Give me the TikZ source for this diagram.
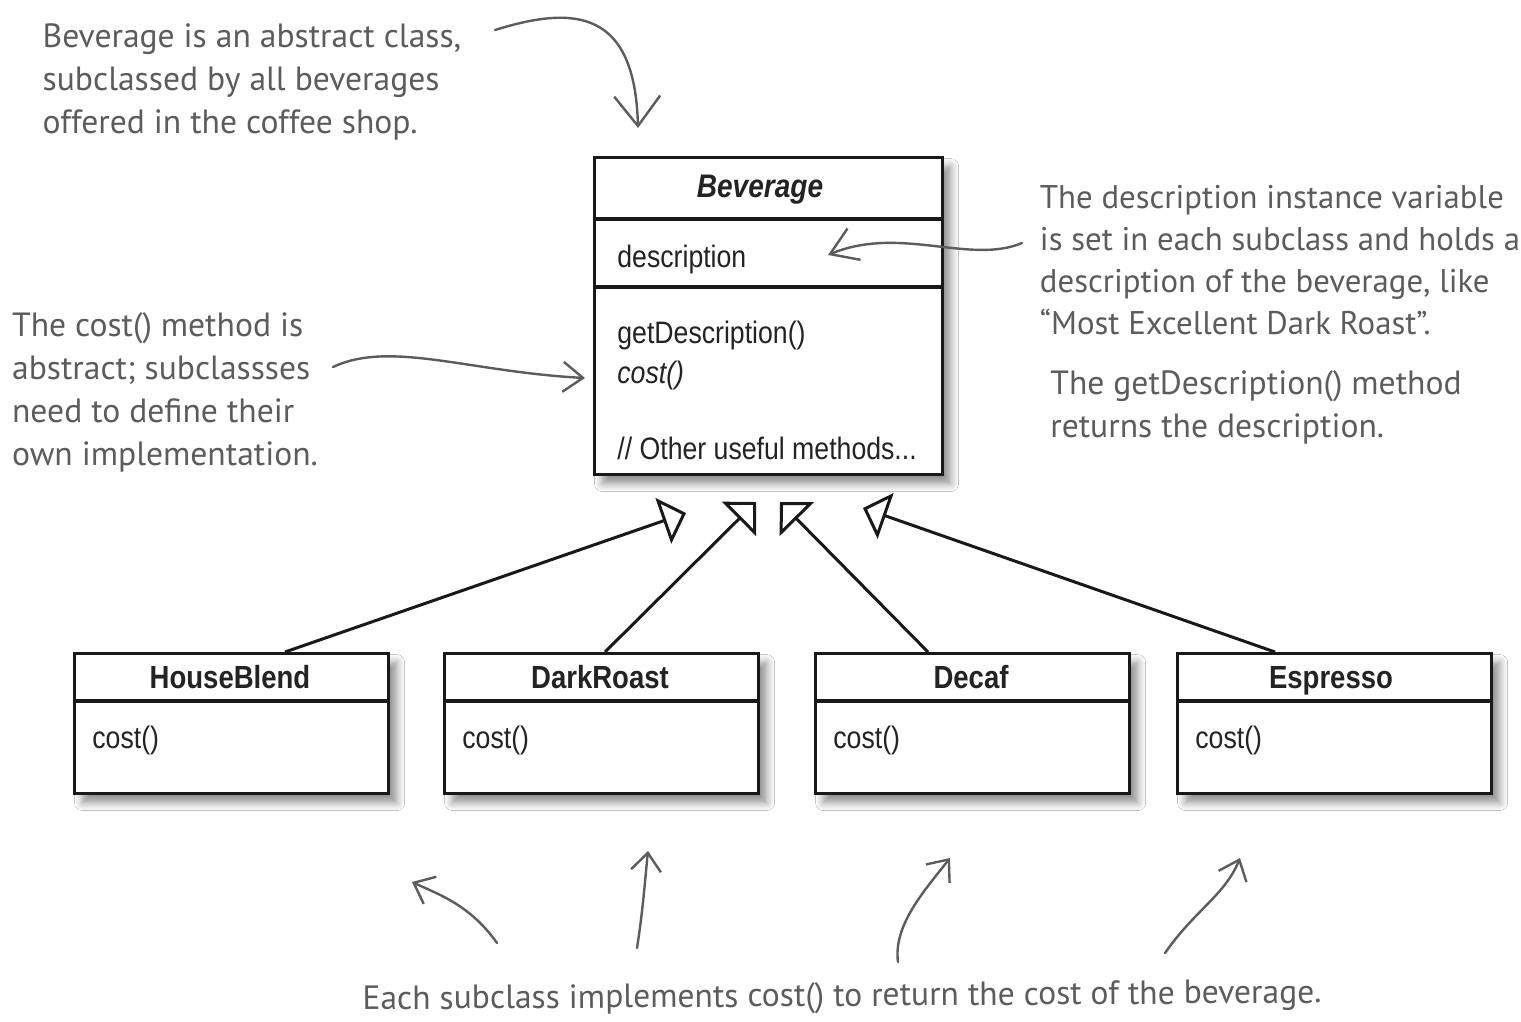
\documentclass[tikz,border=0pt]{standalone}
\usepackage{fontspec}
\usetikzlibrary{arrows.meta,shadows,shadows.blur,calc}
\newfontfamily\umlfont[FakeStretch=0.86]{Liberation Sans}
\newfontfamily\handfont{PT Sans}
\definecolor{handgray}{RGB}{92,92,92}
\definecolor{umltext}{RGB}{35,35,35}
\definecolor{umlline}{RGB}{25,25,25}
\begin{document}
\begin{tikzpicture}[x=0.5pt,y=-0.5pt,
  umlbox/.style={draw=umlline, line width=1.6pt, fill=white, inner sep=0pt, anchor=north west,
    blur shadow={shadow xshift=4pt, shadow yshift=-4.5pt, shadow blur radius=4pt, shadow blur steps=8, shadow opacity=45}},
  compline/.style={line width=1.6pt, draw=umlline},
  umltxt/.style={font=\umlfont\fontsize{15.5}{18}\selectfont, text=umltext, inner sep=0pt, anchor=base west},
  umlname/.style={font=\umlfont\bfseries\fontsize{16}{19}\selectfont, text=umltext, inner sep=0pt, anchor=base},
  inheritarrow/.style={line width=1.5pt, draw=umlline, -{Triangle[open, length=12pt, width=24pt]}},
  handnote/.style={font=\handfont\fontsize{16.8}{21.5}\selectfont, text=handgray, align=left, inner sep=0pt},
  handarrow/.style={line width=1.2pt, draw=handgray, line cap=round, line join=round,
    -{Straight Barb[length=9pt, width=15pt, line width=1.2pt]}},
]
\fill[white] (0,0) rectangle (1521,1022);
\useasboundingbox (0,0) rectangle (1521,1022);

% ---- Beverage class ----
\node[umlbox, minimum width=174pt, minimum height=158.5pt] (bev) at (593,156) {};
\draw[compline] ($(bev.north west)+(0,63)$) -- ($(bev.north east)+(0,63)$);
\draw[compline] ($(bev.north west)+(0,131)$) -- ($(bev.north east)+(0,131)$);
\node[umlname, font=\umlfont\bfseries\itshape\fontsize{16.3}{19}\selectfont] (bevname) at (760,198) {Beverage};
\node[umltxt] (bevattr) at (617,267) {description};
\node[umltxt] (bevm1) at (617,343) {getDescription()};
\node[umltxt, font=\umlfont\itshape\fontsize{15.5}{18}\selectfont] (bevm2) at (617,383) {cost()};
\node[umltxt] (bevm3) at (617,459) {// Other useful methods...};

% ---- subclasses ----
\node[umlbox, minimum width=157pt, minimum height=70pt] (hb) at (73,652) {};
\node[umlbox, minimum width=157pt, minimum height=70pt] (dr) at (443,652) {};
\node[umlbox, minimum width=157pt, minimum height=70pt] (dc) at (814,652) {};
\node[umlbox, minimum width=157pt, minimum height=70pt] (es) at (1176,652) {};
\foreach \b in {hb,dr,dc,es}{
  \draw[compline] ($(\b.north west)+(0,49)$) -- ($(\b.north east)+(0,49)$);
}
\node[umlname] (hbname) at (230,688) {HouseBlend};
\node[umlname] (drname) at (600,688) {DarkRoast};
\node[umlname] (dcname) at (971,688) {Decaf};
\node[umlname] (esname) at (1331,688) {Espresso};
\node[umltxt] (hbcost) at (92,748) {cost()};
\node[umltxt] (drcost) at (462,748) {cost()};
\node[umltxt] (dccost) at (833,748) {cost()};
\node[umltxt] (escost) at (1195,748) {cost()};

% ---- inheritance ----
\coordinate (t1) at (686,513);
\coordinate (t2) at (756,502);
\coordinate (t3) at (780,502);
\coordinate (t4) at (863,508);
\draw[inheritarrow] ($(hb.north west)+(212,0)$) -- (t1);
\draw[inheritarrow] ($(dr.north west)+(162,0)$) -- (t2);
\draw[inheritarrow] ($(dc.north west)+(114,0)$) -- (t3);
\draw[inheritarrow] ($(es.north west)+(99,0)$) -- (t4);

% ---- annotations ----
\node[handnote] (n1) at (252,82) {Beverage is an abstract class,\\subclassed by all beverages\\offered in the coffee shop.};
\node[handnote] (n2) at (165,392) {The cost() method is\\abstract; subclassses\\need to define their\\own implementation.};
\node[handnote, font=\handfont\fontsize{16.4}{21}\selectfont] (n3) at (1280,260) {The description instance variable\\is set in each subclass and holds a\\description of the beverage, like\\“Most Excellent Dark Roast”.};
\node[handnote] (n4) at (1256,407) {The getDescription() method\\returns the description.};
\node[handnote, rotate=0.4] (n5) at (842,998) {Each subclass implements cost() to return the cost of the beverage.};

% ---- annotation arrows ----
\coordinate (a1s) at (495,30);   \coordinate (a1e) at (638,128);
\coordinate (a2s) at (333,367);  \coordinate (a2e) at (585,378);
\coordinate (a3s) at (1022,243); \coordinate (a3e) at (828,255);
\coordinate (b1s) at (497,943);  \coordinate (b1e) at (412,882);
\coordinate (b2s) at (637,948);  \coordinate (b2e) at (648,851);
\coordinate (b3s) at (898,962);  \coordinate (b3e) at (950,858);
\coordinate (b4s) at (1165,953); \coordinate (b4e) at (1240,858);
\draw[handarrow, -{Straight Barb[length=15pt, width=23pt, line width=1.2pt]}] (a1s) .. controls (575,5) and (635,10) .. (a1e);
\draw[handarrow, -{Straight Barb[length=10pt, width=15pt, line width=1.2pt]}] (a2s) .. controls (390,340) and (470,372) .. (a2e);
\draw[handarrow, -{Straight Barb[length=13pt, width=17pt, line width=1.2pt]}] (a3s) .. controls (970,265) and (900,225) .. (a3e);
\draw[handarrow] (b1s) .. controls (470,905) and (440,895) .. (b1e);
\draw[handarrow] (b2s) .. controls (643,910) and (645,880) .. (b2e);
\draw[handarrow] (b3s) .. controls (893,925) and (925,890) .. (b3e);
\draw[handarrow] (b4s) .. controls (1195,910) and (1225,895) .. (b4e);
\end{tikzpicture}
\end{document}
